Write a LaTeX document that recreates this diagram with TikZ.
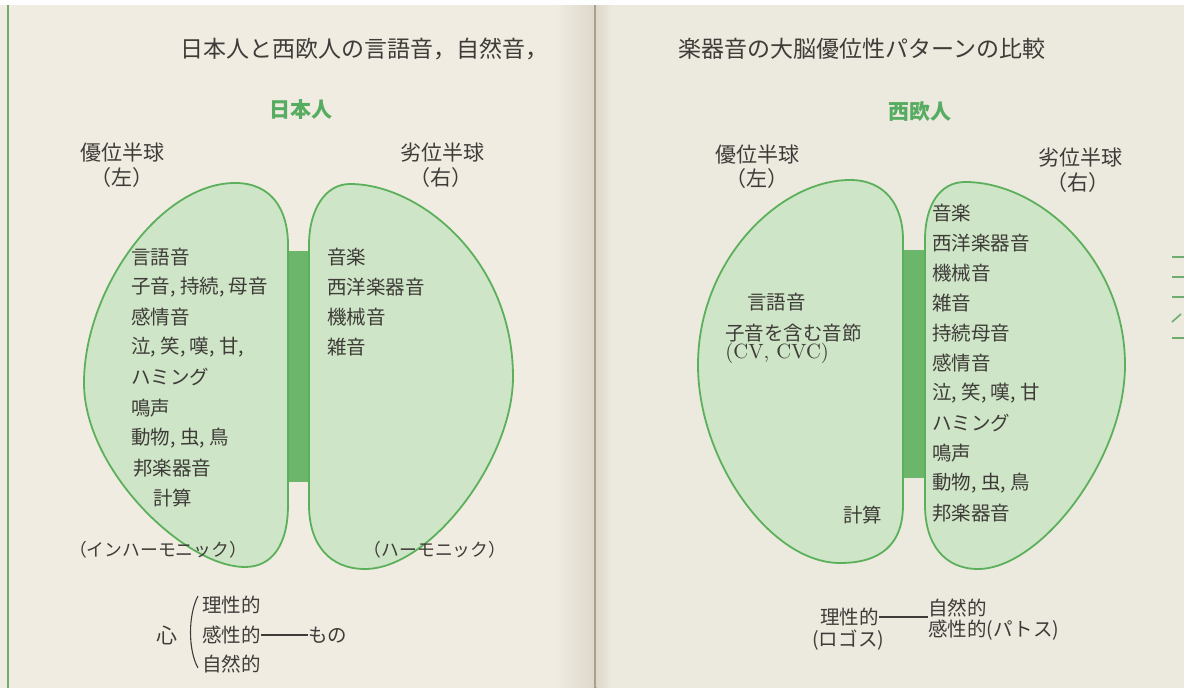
\documentclass[tikz,border=0pt]{standalone}
\usepackage{fontspec}
\newfontfamily\jp{Noto Sans CJK JP}
\definecolor{pageL}{RGB}{240,236,226}
\definecolor{pageR}{RGB}{236,233,223}
\definecolor{gutterD}{RGB}{222,216,203}
\definecolor{gutterL}{RGB}{168,160,140}
\definecolor{ink}{RGB}{62,60,56}
\definecolor{lineg}{RGB}{92,176,92}
\definecolor{fillg}{RGB}{207,229,199}
\definecolor{barg}{RGB}{108,182,108}
\definecolor{headg}{RGB}{86,172,96}
\definecolor{edgeg}{RGB}{110,172,112}
\begin{document}
\begin{tikzpicture}[x=0.5pt,y=-0.5pt,
  lbl/.style={inner sep=0pt, text=ink, font=\jp\fontsize{9.75}{12}\selectfont, anchor=west},
  hd/.style={inner sep=0pt, text=ink, font=\jp\fontsize{10.5}{12}\selectfont},
  ttl/.style={inner sep=0pt, text=ink, font=\jp\fontsize{11.5}{14}\selectfont, anchor=west},
  grn/.style={inner sep=0pt, text=headg, font=\jp\bfseries\fontsize{10.5}{12}\selectfont},
  harm/.style={inner sep=0pt, text=ink, font=\jp\fontsize{8.9}{11}\selectfont},
  hemi/.style={draw=lineg, fill=fillg, line width=0.9pt},
  cc/.style={fill=barg},
  link/.style={draw=ink, line width=0.55pt}]
% page background
\useasboundingbox (0,0) rectangle (1184,688);
\fill[pageL] (0,0) rectangle (595,688);
\fill[pageR] (595,0) rectangle (1184,688);
\shade[left color=pageL, right color=gutterD] (555,0) rectangle (594,688);
\fill[gutterL] (594,0) rectangle (596.5,688);
\shade[left color=gutterD, right color=pageR] (596.5,0) rectangle (612,688);
\fill[white!97!pageL] (0,0) rectangle (1184,5);
\fill[edgeg] (6.5,5) rectangle (9,688);
% marks at right page edge
\draw[edgeg, line width=0.8pt] (1172,257) -- (1184,257);
\draw[edgeg, line width=0.8pt] (1172,277) -- (1184,277);
\draw[edgeg, line width=0.8pt] (1172,297) -- (1184,297);
\draw[edgeg, line width=0.8pt] (1172,322) -- (1181,314);
\draw[edgeg, line width=0.8pt] (1172,338) -- (1184,338);

% titles
\node[ttl] (t1) at (180,49) {日本人と西欧人の言語音，自然音，};
\node[ttl] (t2) at (678,49) {楽器音の大脳優位性パターンの比較};

% ===== Japanese =====
\node[grn] (jh) at (301,110) {日本人};
\node[hd] (jdom) at (122,153) {優位半球};
\node[hd] (jdomL) at (122,178) {（左）};
\node[hd] (jsub) at (442,153) {劣位半球};
\node[hd] (jsubR) at (441,178) {（右）};

\fill[cc] (288,251) rectangle (309,482);
\draw[hemi] (288,245) -- (288,505) .. controls (288,545) and (272,567) .. (245,567)
  .. controls (185,567) and (84,470) .. (84,383)
  .. controls (84,290) and (160,183) .. (235,183)
  .. controls (272,183) and (288,210) .. (288,245) -- cycle;
\draw[hemi] (309,245) -- (309,505) .. controls (309,545) and (330,569) .. (365,569)
  .. controls (430,569) and (513,460) .. (513,377)
  .. controls (513,260) and (420,184) .. (350,184)
  .. controls (325,184) and (309,210) .. (309,245) -- cycle;

\node[lbl] (ja1) at (131,257) {言語音};
\node[lbl] (ja2) at (131,287) {子音, 持続, 母音};
\node[lbl] (ja3) at (131,317) {感情音};
\node[lbl] (ja4) at (131,347) {泣, 笑, 嘆, 甘,};
\node[lbl] (ja5) at (131,377) {ハミング};
\node[lbl] (ja6) at (131,408) {鳴声};
\node[lbl] (ja7) at (131,438) {動物, 虫, 鳥};
\node[lbl] (ja8) at (133,468) {邦楽器音};
\node[lbl] (ja9) at (153,498) {計算};
\node[lbl] (jb1) at (327,257) {音楽};
\node[lbl] (jb2) at (327,287) {西洋楽器音};
\node[lbl] (jb3) at (327,317) {機械音};
\node[lbl] (jb4) at (327,347) {雑音};
\node[harm] (jinh) at (158,550) {（インハーモニック）};
\node[harm] (jhar) at (435,550) {（ハーモニック）};

\node[lbl] (kr) at (202,605) {理性的};
\node[lbl] (kk) at (202,635) {感性的};
\node[lbl] (ks) at (202,664) {自然的};
\node[hd] (kokoro) at (167,635) {心};
\node[lbl] (mono) at (308,635) {もの};
\draw[link] (kk.east) -- (mono.west);
\draw[ink, line width=0.55pt] (198,596) .. controls (188,615) and (188,650) .. (198,668);

% ===== Western =====
\node[grn] (wh) at (920,112) {西欧人};
\node[hd] (wdom) at (757,155) {優位半球};
\node[hd] (wdomL) at (757,179) {（左）};
\node[hd] (wsub) at (1080,158) {劣位半球};
\node[hd] (wsubR) at (1078,183) {（右）};

\fill[cc] (903,250) rectangle (925,478);
\draw[hemi] (903,240) -- (903,505) .. controls (903,545) and (880,563) .. (840,563)
  .. controls (770,563) and (698,460) .. (698,365)
  .. controls (698,260) and (780,180) .. (850,180)
  .. controls (885,180) and (903,205) .. (903,240) -- cycle;
\draw[hemi] (925,240) -- (925,505) .. controls (925,545) and (945,569) .. (978,569)
  .. controls (1040,569) and (1125,460) .. (1125,365)
  .. controls (1125,260) and (1040,182) .. (965,182)
  .. controls (940,182) and (925,205) .. (925,240) -- cycle;

\node[lbl] (wa1) at (747,302) {言語音};
\node[lbl] (wa2) at (725,333) {子音を含む音節};
\node[inner sep=0pt, text=ink, font=\fontsize{10.3}{12}\selectfont, anchor=west] (wa3) at (725,353) {(CV, CVC)};
\node[lbl] (wa4) at (843,515) {計算};
\node[lbl] (wb1) at (932,213) {音楽};
\node[lbl] (wb2) at (932,243) {西洋楽器音};
\node[lbl] (wb3) at (932,273) {機械音};
\node[lbl] (wb4) at (932,303) {雑音};
\node[lbl] (wb5) at (932,333) {持続母音};
\node[lbl] (wb6) at (932,363) {感情音};
\node[lbl] (wb7) at (932,393) {泣, 笑, 嘆, 甘};
\node[lbl] (wb8) at (932,423) {ハミング};
\node[lbl] (wb9) at (932,453) {鳴声};
\node[lbl] (wb10) at (932,483) {動物, 虫, 鳥};
\node[lbl] (wb11) at (932,513) {邦楽器音};

\node[lbl] (wr) at (820,617) {理性的};
\node[lbl] (wlogos) at (812,640) {(ロゴス)};
\node[lbl] (wshizen) at (928,608) {自然的};
\node[lbl] (wkansei) at (928,630) {感性的(パトス)};
\draw[link] (wr.east) -- (wr.east -| wshizen.west);
\end{tikzpicture}
\end{document}
